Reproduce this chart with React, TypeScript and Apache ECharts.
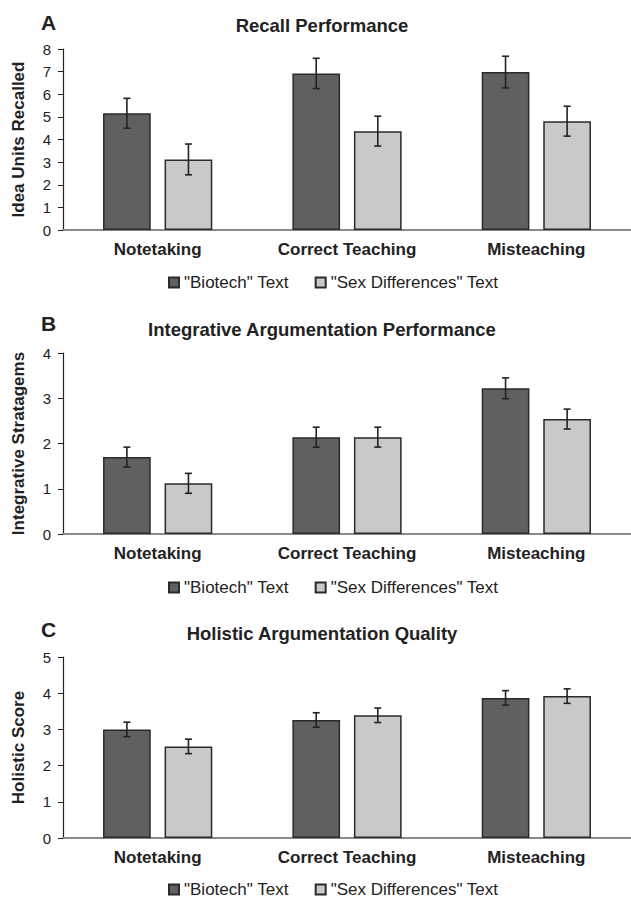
import React, { useEffect, useRef } from "react";
import * as echarts from "echarts";

const categories = ["Notetaking", "Correct Teaching", "Misteaching"];
const seriesNames = ['"Biotech" Text', '"Sex Differences" Text'];

// Panel A: Recall Performance
const recallBiotech = [5.16, 6.92, 6.98];
const recallBiotechErr = [0.66, 0.67, 0.7];
const recallSex = [3.12, 4.37, 4.81];
const recallSexErr = [0.68, 0.66, 0.66];

// Panel B: Integrative Argumentation Performance
const integBiotech = [1.7, 2.14, 3.22];
const integBiotechErr = [0.22, 0.22, 0.23];
const integSex = [1.12, 2.14, 2.54];
const integSexErr = [0.22, 0.22, 0.22];

// Panel C: Holistic Argumentation Quality
const holBiotech = [3.0, 3.26, 3.87];
const holBiotechErr = [0.2, 0.2, 0.2];
const holSex = [2.53, 3.39, 3.92];
const holSexErr = [0.2, 0.2, 0.2];

const panelTitles = ["Recall Performance", "Integrative Argumentation Performance", "Holistic Argumentation Quality"];
const panelLetters = ["A", "B", "C"];
const yNames = ["Idea Units Recalled", "Integrative Stratagems", "Holistic Score"];
const yMax = [8, 4, 5];

const FONT = "'Liberation Sans', Arial, sans-serif";
const DARK = "#606060";
const LIGHT = "#c8c9ca";
const EDGE = "#2a2a2a";

export default function App() {
  const ref = useRef<HTMLDivElement>(null);
  useEffect(() => {
    if (!ref.current) return;
    const chart = echarts.init(ref.current, undefined, { renderer: "svg" });

    const panels = [
      { b: recallBiotech, be: recallBiotechErr, s: recallSex, se: recallSexErr },
      { b: integBiotech, be: integBiotechErr, s: integSex, se: integSexErr },
      { b: holBiotech, be: holBiotechErr, s: holSex, se: holSexErr },
    ];
    const gridTops = [49, 353, 657];
    const gridHeight = 181;
    const titleY = [25, 329, 633];
    const letterY = [22, 323, 629];
    const legendTops = [269, 574, 876];

    const offsetFrac = 0.1626;

    const errorSeries = (gi: number, vals: number[], errs: number[], sign: number) => ({
      type: "custom",
      name: "err" + gi + "_" + sign,
      xAxisIndex: gi,
      yAxisIndex: gi,
      z: 10,
      silent: true,
      data: vals.map((v, i) => [i, v - errs[i], v + errs[i]]),
      renderItem: (params: any, api: any) => {
        const idx = api.value(0);
        const lo = api.coord([idx, api.value(1)]);
        const hi = api.coord([idx, api.value(2)]);
        const band = api.size([1, 0])[0];
        const x = lo[0] + sign * band * offsetFrac;
        const cap = 3.5;
        const st = { stroke: "#222", lineWidth: 1.6 };
        return {
          type: "group",
          children: [
            { type: "line", shape: { x1: x, y1: lo[1], x2: x, y2: hi[1] }, style: st },
            { type: "line", shape: { x1: x - cap, y1: lo[1], x2: x + cap, y2: lo[1] }, style: st },
            { type: "line", shape: { x1: x - cap, y1: hi[1], x2: x + cap, y2: hi[1] }, style: st },
          ],
        };
      },
    });

    const grid: any[] = [];
    const xAxis: any[] = [];
    const yAxis: any[] = [];
    const series: any[] = [];
    const legend: any[] = [];
    const graphic: any[] = [];

    panels.forEach((p, gi) => {
      grid.push({ left: 63, top: gridTops[gi], width: 572, height: gridHeight });
      xAxis.push({
        type: "category",
        gridIndex: gi,
        data: categories,
        axisLine: { lineStyle: { color: "#8a8a8a", width: 2 } },
        axisTick: { show: false },
        axisLabel: { color: "#222", fontFamily: FONT, fontWeight: "bold", fontSize: 17, margin: 11 },
      });
      yAxis.push({
        type: "value",
        gridIndex: gi,
        min: 0,
        max: yMax[gi],
        interval: 1,
        name: yNames[gi],
        nameLocation: "middle",
        nameRotate: 90,
        nameGap: 36,
        nameTextStyle: { color: "#222", fontFamily: FONT, fontWeight: "bold", fontSize: 17 },
        axisLine: { show: true, lineStyle: { color: "#222", width: 1.2 } },
        axisTick: { show: true, length: 5, lineStyle: { color: "#222" } },
        axisLabel: { color: "#222", fontFamily: FONT, fontSize: 15, margin: 12 },
        splitLine: { show: false },
      });
      series.push({
        type: "bar",
        name: seriesNames[0],
        xAxisIndex: gi,
        yAxisIndex: gi,
        data: p.b,
        barWidth: "25.2%",
        barGap: "29%",
        itemStyle: { color: DARK, borderColor: EDGE, borderWidth: 1.5 },
      });
      series.push({
        type: "bar",
        name: seriesNames[1],
        xAxisIndex: gi,
        yAxisIndex: gi,
        data: p.s,
        barWidth: "25.2%",
        barGap: "29%",
        itemStyle: { color: LIGHT, borderColor: EDGE, borderWidth: 1.5 },
      });
      series.push(errorSeries(gi, p.b, p.be, -1));
      series.push(errorSeries(gi, p.s, p.se, 1));
      legend.push({
        data: seriesNames,
        left: 163,
        top: legendTops[gi],
        icon: "rect",
        itemWidth: 10,
        itemHeight: 10,
        itemGap: 26,
        selectedMode: false,
        textStyle: { color: "#222", fontFamily: FONT, fontSize: 17 },
      });
      graphic.push({
        type: "text",
        x: 322,
        y: titleY[gi],
        style: {
          text: panelTitles[gi],
          fill: "#222",
          font: "bold 18.5px " + FONT,
          align: "center",
          verticalAlign: "middle",
        },
      });
      graphic.push({
        type: "text",
        x: 41,
        y: letterY[gi],
        style: {
          text: panelLetters[gi],
          fill: "#222",
          font: "bold 21px " + FONT,
          align: "left",
          verticalAlign: "middle",
        },
      });
    });

    chart.setOption({
      animation: false,
      backgroundColor: "#ffffff",
      grid,
      xAxis,
      yAxis,
      series,
      legend,
      graphic,
    });
    return () => chart.dispose();
  }, []);

  return (
    <div
      ref={ref}
      style={{ position: "fixed", left: 0, top: 0, width: 631, height: 898, background: "#fff" }}
    />
  );
}
